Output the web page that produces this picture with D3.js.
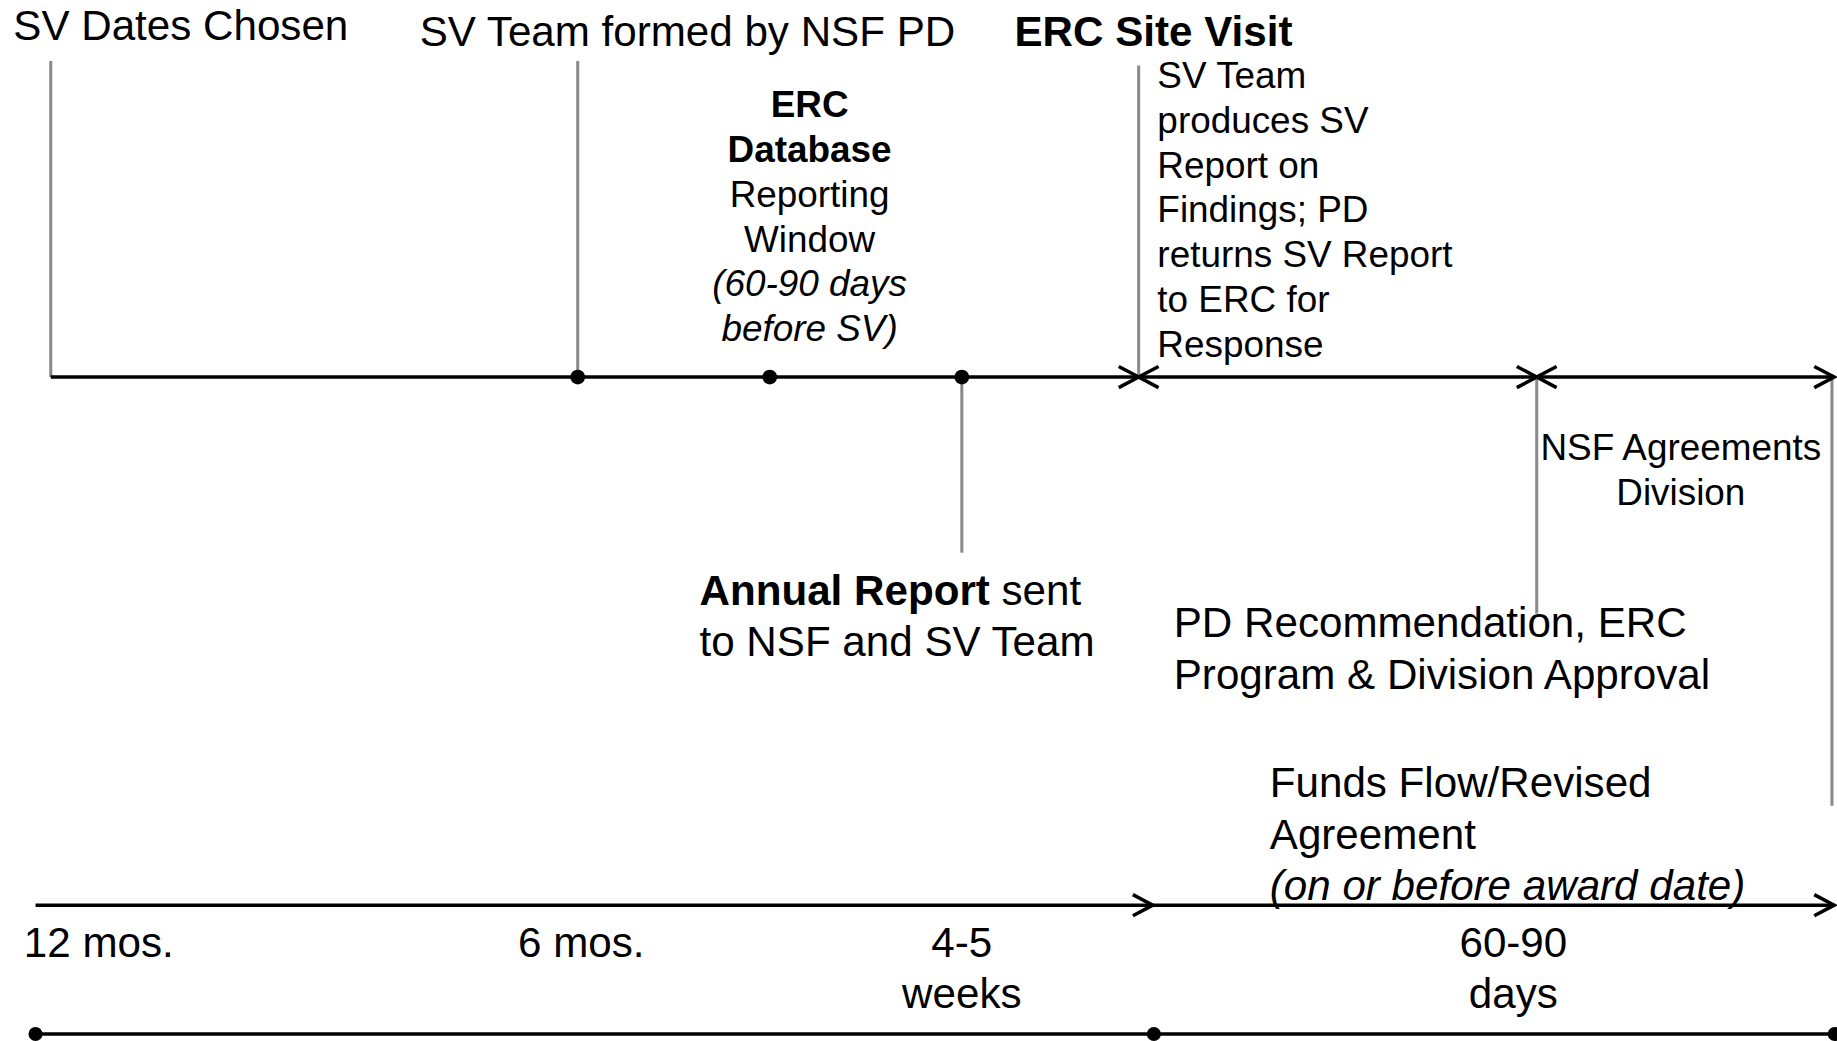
<!DOCTYPE html>
<html><head><meta charset="utf-8">
<script src="https://cdn.jsdelivr.net/npm/d3@7"></script>
<style>html,body{margin:0;padding:0;background:#fff;overflow:hidden}</style>
</head><body>
<svg id="chart"></svg>
<script>
// ---- data (positions along the timeline in percent of chart width) ----
const topHeadings = ["SV Dates Chosen", "SV Team formed by NSF PD", "ERC Site Visit"];
const topHeadingBold = [false, false, true];
const eventPositions = [2.74, 31.44, 61.99];          // gray markers rising above the top line
const dotPositions = [31.44, 41.9, 52.36];             // dots on the top line
const topSegments = [[2.74, 61.99, false], [61.99, 83.67, true], [83.67, 99.87, true]]; // [from, to, startHead]
const downMarkers = [[52.36, 472], [83.67, 524], [99.75, 688]]; // [pos, bottom of gray line]
const dbLines = [["ERC", "b"], ["Database", "b"], ["Reporting", "n"], ["Window", "n"], ["(60-90 days", "i"], ["before SV)", "i"]];
const visitLines = ["SV Team", "produces SV", "Report on", "Findings; PD", "returns SV Report", "to ERC for", "Response"];
const agreementLines = ["NSF Agreements", "Division"];
const annualLines = [[["Annual Report", "b"], [" sent", "n"]], [["to NSF and SV Team", "n"]]];
const pdLines = ["PD Recommendation, ERC", "Program & Division Approval"];
const fundsLines = [["Funds Flow/Revised", "n"], ["Agreement", "n"], ["(on or before award date)", "i"]];
const scaleSegments = [[1.91, 62.76], [62.76, 99.87]];
const scaleLabels = [["12 mos."], ["6 mos."], ["4-5", "weeks"], ["60-90", "days"]];
const bottomDots = [1.91, 62.82, 99.9];

// ---- layout ----
const VW = 1568, VH = 889;
const svg = d3.select("#chart").attr("width", 1837).attr("height", 1041)
  .attr("viewBox", `0 0 ${VW} ${VH}`);
const x = d3.scaleLinear().domain([0, 100]).range([0, VW]);
const FONT = "'Liberation Sans', Arial, Helvetica, sans-serif";
const yTop = 322, yMid = 773, yBot = 883;
const gray = "#8a8a8a";

const g = svg.append("g");

function head(px, py, dir) { // open chevron
  const L = 17, W = 9;
  return `M${px - dir * L},${py - W}L${px},${py}L${px - dir * L},${py + W}`;
}

// gray rising markers
g.selectAll(".rise").data(eventPositions).join("line")
  .attr("x1", d => x(d)).attr("x2", d => x(d))
  .attr("y1", (d, i) => i === 2 ? 56 : 52).attr("y2", yTop)
  .attr("stroke", gray).attr("stroke-width", 2.6);
// gray descending markers
g.selectAll(".fall").data(downMarkers).join("line")
  .attr("x1", d => x(d[0])).attr("x2", d => x(d[0]))
  .attr("y1", yTop).attr("y2", d => d[1])
  .attr("stroke", gray).attr("stroke-width", 2.6);

// top timeline
g.selectAll(".seg").data(topSegments).join("line")
  .attr("x1", d => x(d[0])).attr("x2", d => x(d[1]))
  .attr("y1", yTop).attr("y2", yTop).attr("stroke", "#000").attr("stroke-width", 3);
g.selectAll(".endHead").data(topSegments).join("path")
  .attr("d", d => head(x(d[1]), yTop, 1))
  .attr("fill", "none").attr("stroke", "#000").attr("stroke-width", 3);
g.selectAll(".startHead").data(topSegments.filter(d => d[2])).join("path")
  .attr("d", d => head(x(d[0]), yTop, -1))
  .attr("fill", "none").attr("stroke", "#000").attr("stroke-width", 3);
g.selectAll(".dot").data(dotPositions).join("circle")
  .attr("cx", d => x(d)).attr("cy", yTop).attr("r", 6.3).attr("fill", "#000");

// middle scale arrows
g.selectAll(".mseg").data(scaleSegments).join("line")
  .attr("x1", d => x(d[0])).attr("x2", d => x(d[1]))
  .attr("y1", yMid).attr("y2", yMid).attr("stroke", "#000").attr("stroke-width", 3);
g.selectAll(".mhead").data(scaleSegments).join("path")
  .attr("d", d => head(x(d[1]), yMid, 1))
  .attr("fill", "none").attr("stroke", "#000").attr("stroke-width", 3);

// bottom line
g.append("line").attr("x1", x(bottomDots[0])).attr("x2", VW)
  .attr("y1", yBot).attr("y2", yBot).attr("stroke", "#000").attr("stroke-width", 3);
g.selectAll(".bdot").data(bottomDots).join("circle")
  .attr("cx", d => x(d)).attr("cy", yBot).attr("r", 6).attr("fill", "#000");

// ---- text ----
const T = svg.append("g").attr("font-family", FONT).attr("fill", "#000");
function styled(sel, s) {
  if (s === "b") sel.attr("font-weight", "bold");
  if (s === "i") sel.attr("font-style", "italic");
  return sel;
}
// top headings
const headX = [11, 358, 866], headY = [34, 39, 39];
topHeadings.forEach((t, i) => {
  T.append("text").attr("x", headX[i]).attr("y", headY[i]).attr("font-size", 36)
    .attr("font-weight", topHeadingBold[i] ? "bold" : "normal").text(t);
});
// ERC database block
dbLines.forEach((l, i) => {
  styled(T.append("text").attr("x", 691).attr("y", 100 + i * 38.3).attr("font-size", 31.5)
    .attr("text-anchor", "middle").text(l[0]), l[1]);
});
// site visit block
visitLines.forEach((l, i) => {
  T.append("text").attr("x", 988).attr("y", 75 + i * 38.3).attr("font-size", 31.5).text(l);
});
// NSF agreements
agreementLines.forEach((l, i) => {
  T.append("text").attr("x", 1435).attr("y", 393 + i * 38.3).attr("font-size", 31.5)
    .attr("text-anchor", "middle").text(l);
});
// annual report
annualLines.forEach((parts, i) => {
  const t = T.append("text").attr("x", 597).attr("y", 517 + i * 43.5).attr("font-size", 36);
  parts.forEach(p => styled(t.append("tspan").text(p[0]), p[1]));
});
// PD recommendation
pdLines.forEach((l, i) => {
  T.append("text").attr("x", 1002).attr("y", 544 + i * 44).attr("font-size", 36).text(l);
});
// funds flow
fundsLines.forEach((l, i) => {
  styled(T.append("text").attr("x", 1084).attr("y", 681 + i * 44).attr("font-size", 36).text(l[0]), l[1]);
});
// scale labels
const lblX = [20, 442, 821, 1292], lblAnchor = ["start", "start", "middle", "middle"];
scaleLabels.forEach((lines, i) => {
  lines.forEach((l, j) => {
    T.append("text").attr("x", lblX[i]).attr("y", 817 + j * 43.5).attr("font-size", 36)
      .attr("text-anchor", lblAnchor[i]).text(l);
  });
});
</script>
</body></html>
